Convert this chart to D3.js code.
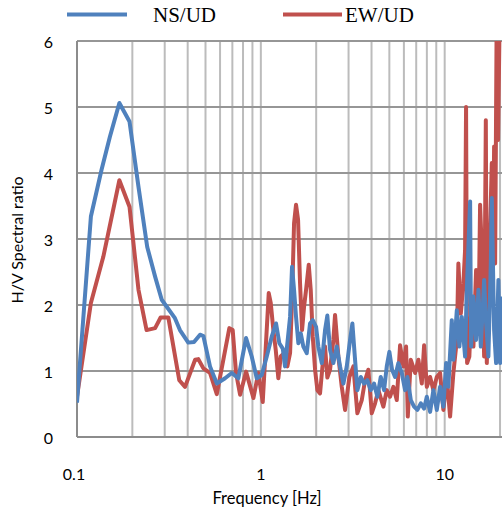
<!DOCTYPE html>
<html>
<head>
<meta charset="utf-8">
<script src="https://cdn.jsdelivr.net/npm/d3@7"></script>
<style>
  body { margin: 0; background: #fff; }
  svg { display: block; }
</style>
</head>
<body>
<div class="chart"></div>
<script>
// H/V spectral ratio curves (frequency in Hz, ratio)
var nsFreq = [0.100,0.119,0.136,0.151,0.170,0.193,0.216,0.241,0.266,0.289,0.341,0.363,0.403,0.433,0.467,0.487,0.529,0.576,0.639,0.695,0.754,0.831,0.892,0.950,1.011,1.077,1.146,1.210,1.261,1.316,1.354,1.394,1.442,1.478,1.516,1.554,1.600,1.649,1.703,1.777,1.852,1.916,1.997,2.055,2.145,2.235,2.300,2.379,2.480,2.588,2.697,2.811,2.933,3.057,3.147,3.255,3.350,3.496,3.644,3.796,3.962,4.129,4.304,4.491,4.680,4.841,5.002,5.174,5.372,5.599,5.843,6.089,6.267,6.541,6.817,7.105,7.414,7.728,7.994,8.331,8.683,9.058,9.440,9.838,10.18,10.47,10.93,11.15,11.64,12.02,12.39,12.91,13.19,13.75,13.92,14.33,14.82,15.26,15.72,16.12,16.39,16.80,17.29,17.82,18.04,18.57,19.04,19.60,20.01,20.45];
var nsRatio = [0.52,3.34,4.05,4.55,5.06,4.78,3.79,2.88,2.43,2.08,1.80,1.62,1.43,1.44,1.55,1.53,1.07,0.81,0.89,0.97,0.89,1.50,1.22,0.89,0.94,1.22,1.52,1.72,1.42,1.34,1.07,1.42,1.82,2.58,2.23,1.82,1.42,1.57,1.37,1.27,1.72,1.77,1.67,1.37,1.12,1.62,1.84,1.32,1.12,1.37,1.07,0.81,1.07,1.47,1.72,1.17,0.71,0.91,0.81,0.86,0.71,0.81,0.61,0.91,0.71,1.07,1.29,1.02,0.91,1.12,0.97,0.71,0.91,0.56,0.46,0.41,0.51,0.43,0.61,0.38,0.71,0.41,0.76,0.46,1.12,0.76,1.77,1.17,1.92,1.37,1.82,1.22,2.23,3.57,1.37,2.13,1.47,2.23,1.37,1.97,2.38,1.72,1.22,2.63,3.62,1.62,1.12,2.38,1.12,2.13];

var ewFreq = [0.100,0.119,0.139,0.170,0.193,0.216,0.239,0.266,0.285,0.314,0.360,0.387,0.439,0.457,0.487,0.529,0.576,0.625,0.674,0.703,0.733,0.771,0.831,0.911,0.969,1.024,1.104,1.132,1.170,1.205,1.245,1.283,1.337,1.394,1.442,1.478,1.516,1.554,1.594,1.634,1.676,1.718,1.762,1.822,1.868,1.916,1.972,2.030,2.099,2.172,2.235,2.300,2.379,2.480,2.533,2.640,2.755,2.872,3.031,3.186,3.350,3.540,3.690,3.844,4.012,4.181,4.358,4.640,4.841,5.046,5.259,5.488,5.719,5.961,6.166,6.299,6.541,6.903,7.195,7.508,7.728,7.994,8.331,8.683,9.058,9.440,9.838,10.27,10.70,11.15,11.64,11.87,12.24,12.64,12.91,13.07,13.24,13.62,14.04,14.33,14.82,15.26,15.58,15.92,16.39,16.74,16.95,17.29,17.66,18.04,18.34,18.57,18.81,19.16,19.52,19.89,20.40];
var ewRatio = [0.61,2.03,2.73,3.89,3.49,2.23,1.62,1.65,1.81,1.81,0.86,0.76,1.17,1.18,1.04,0.97,0.65,1.17,1.65,1.62,0.97,0.64,0.99,0.59,0.97,0.53,2.18,2.03,1.62,1.32,0.89,1.22,1.27,1.07,1.27,2.08,3.24,3.52,3.29,2.33,1.62,1.97,2.23,2.61,2.23,1.52,1.02,0.71,0.66,1.12,1.37,0.90,1.02,1.47,1.85,1.22,0.76,0.41,0.91,1.07,0.36,0.56,0.86,1.02,0.36,0.51,0.71,0.46,0.71,0.61,0.76,0.56,1.39,1.07,1.37,0.31,1.17,0.97,1.17,0.81,1.39,0.76,0.91,0.71,0.91,0.97,0.41,0.91,0.31,0.97,1.47,2.63,1.87,2.33,2.83,5.00,1.12,1.22,2.13,1.37,2.53,1.62,3.52,2.83,1.22,4.80,1.12,2.13,3.14,4.15,2.80,4.40,2.63,6.20,4.50,6.30,6.30];

var xTicks = [0.1, 1, 10];
var xGrid = [0.2,0.3,0.4,0.5,0.6,0.7,0.8,0.9,1,2,3,4,5,6,7,8,9,10,20];
var yTicks = [0, 1, 2, 3, 4, 5, 6];

var width = 502, height = 509;
var plotLeft = 77, plotRight = 502, plotTop = 41, plotBottom = 437;

var blue = '#4f81bd', red = '#c0504d';

var svg = d3.select('.chart')
  .append('svg')
  .attr('width', width)
  .attr('height', height);

var x = d3.scaleLog()
  .domain([0.1, 20.5])
  .range([plotLeft, plotRight]);

var y = d3.scaleLinear()
  .domain([0, 6])
  .range([plotBottom, plotTop]);

// grid lines
svg.append('g')
  .selectAll('line')
  .data(xGrid)
  .enter()
  .append('line')
  .attr('x1', d => x(d))
  .attr('x2', d => x(d))
  .attr('y1', plotTop)
  .attr('y2', plotBottom)
  .attr('stroke', '#bcbcbc')
  .attr('stroke-width', 2);

svg.append('g')
  .selectAll('line')
  .data(yTicks.filter(d => d > 0))
  .enter()
  .append('line')
  .attr('x1', plotLeft)
  .attr('x2', plotRight)
  .attr('y1', d => y(d))
  .attr('y2', d => y(d))
  .attr('stroke', '#969696')
  .attr('stroke-width', 2);

// axis lines
svg.append('line')
  .attr('x1', plotLeft).attr('x2', plotLeft)
  .attr('y1', plotTop).attr('y2', plotBottom)
  .attr('stroke', '#8c8c8c').attr('stroke-width', 2);
svg.append('line')
  .attr('x1', plotLeft).attr('x2', plotRight)
  .attr('y1', plotBottom).attr('y2', plotBottom)
  .attr('stroke', '#8c8c8c').attr('stroke-width', 2);

// tick labels
svg.append('g')
  .selectAll('text')
  .data(yTicks)
  .enter()
  .append('text')
  .attr('x', 53)
  .attr('y', d => y(d) + 7)
  .attr('text-anchor', 'end')
  .attr('font-family', 'Lato, sans-serif')
  .attr('font-size', '16px')
  .attr('fill', '#000')
  .text(d => d);

svg.append('g')
  .selectAll('text')
  .data(xTicks)
  .enter()
  .append('text')
  .attr('x', d => x(d) - (d === 0.1 ? 3 : 0))
  .attr('y', 480)
  .attr('text-anchor', 'middle')
  .attr('font-family', 'Lato, sans-serif')
  .attr('font-size', '16px')
  .attr('fill', '#000')
  .text(d => d);

// axis titles
svg.append('text')
  .attr('x', 267)
  .attr('y', 504)
  .attr('text-anchor', 'middle')
  .attr('font-family', 'Lato, sans-serif')
  .attr('font-size', '16.5px')
  .text('Frequency [Hz]');

svg.append('text')
  .attr('transform', 'translate(23,240) rotate(-90)')
  .attr('text-anchor', 'middle')
  .attr('font-family', 'Lato, sans-serif')
  .attr('font-size', '16px')
  .text('H/V Spectral ratio');

// curves
svg.append('clipPath')
  .attr('id', 'plot')
  .append('rect')
  .attr('x', plotLeft).attr('y', plotTop)
  .attr('width', plotRight - plotLeft).attr('height', plotBottom - plotTop);

var line = d3.line()
  .x(d => x(d[0]))
  .y(d => y(d[1]));

var ew = d3.zip(ewFreq, ewRatio);
var ns = d3.zip(nsFreq, nsRatio);

svg.append('path')
  .datum(ew)
  .attr('clip-path', 'url(#plot)')
  .attr('d', line)
  .attr('fill', 'none')
  .attr('stroke', red)
  .attr('stroke-width', 4)
  .attr('stroke-linejoin', 'round');

svg.append('path')
  .datum(ns)
  .attr('clip-path', 'url(#plot)')
  .attr('d', line)
  .attr('fill', 'none')
  .attr('stroke', blue)
  .attr('stroke-width', 4)
  .attr('stroke-linejoin', 'round');

// legend
var legend = [
  {name: 'NS/UD', color: blue, x1: 67, x2: 127, tx: 153},
  {name: 'EW/UD', color: red, x1: 283, x2: 342, tx: 345}
];

legend.forEach(function (l) {
  svg.append('line')
    .attr('x1', l.x1).attr('x2', l.x2)
    .attr('y1', 14.5).attr('y2', 14.5)
    .attr('stroke', l.color)
    .attr('stroke-width', 4);
  svg.append('text')
    .attr('x', l.tx)
    .attr('y', 22)
    .attr('font-family', '"Liberation Serif", "Times New Roman", serif')
    .attr('font-size', '21px')
    .text(l.name);
});
</script>
</body>
</html>
